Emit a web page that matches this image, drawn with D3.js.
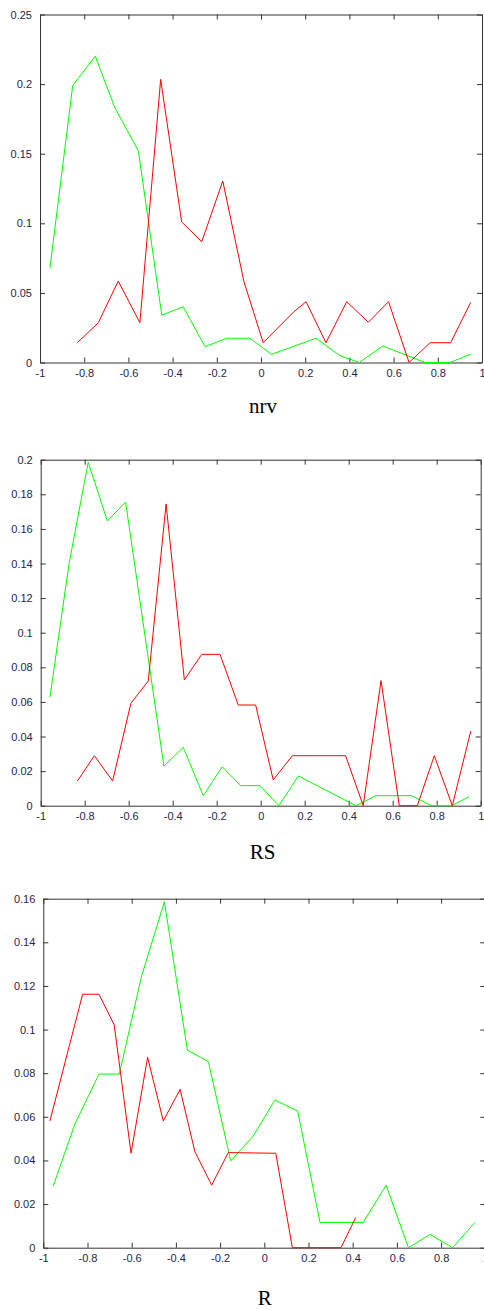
<!DOCTYPE html>
<html>
<head>
<meta charset="utf-8">
<script src="https://cdn.jsdelivr.net/npm/d3@7"></script>
<style>
    body { margin: 0; background: #fff; }
    .tick text { font-family: Arial, "Liberation Sans", sans-serif; font-size: 11px; fill: #25254a; }
    .title { font-family: "Times New Roman", "Liberation Serif", serif; font-size: 21px; fill: #000; }
</style>
</head>
<body>
<div id="chart"></div>
<script>
// values, [x, y]
const nrvGreen = [[-0.955, 0.068], [-0.852, 0.199], [-0.750, 0.220], [-0.661, 0.183], [-0.555, 0.152],
    [-0.449, 0.034], [-0.352, 0.040], [-0.253, 0.0114], [-0.155, 0.0174], [-0.050, 0.0174],
    [0.048, 0.0059], [0.249, 0.0174], [0.357, 0.005], [0.445, 0], [0.551, 0.0119],
    [0.742, 0], [0.855, 0], [0.949, 0.006]];
const nrvRed = [[-0.831, 0.0142], [-0.736, 0.0286], [-0.646, 0.0585], [-0.548, 0.0286], [-0.454, 0.2034],
    [-0.359, 0.101], [-0.268, 0.0868], [-0.173, 0.1304], [-0.077, 0.058], [0.010, 0.0142],
    [0.149, 0.0365], [0.204, 0.0437], [0.294, 0.0142], [0.388, 0.0437], [0.486, 0.0289],
    [0.577, 0.0437], [0.670, 0], [0.765, 0.0142], [0.858, 0.0142], [0.949, 0.0432]];

const rsGreen = [[-0.958, 0.0627], [-0.871, 0.140], [-0.784, 0.1985], [-0.697, 0.1646], [-0.614, 0.1755],
    [-0.440, 0.0229], [-0.352, 0.0337], [-0.261, 0.0058], [-0.175, 0.0225], [-0.091, 0.0116],
    [-0.003, 0.0116], [0.083, 0], [0.171, 0.0172], [0.433, 0], [0.524, 0.0058],
    [0.686, 0.0058], [0.777, 0], [0.868, 0], [0.948, 0.0052]];
const rsRed = [[-0.833, 0.0143], [-0.756, 0.0289], [-0.673, 0.0143], [-0.590, 0.0592], [-0.511, 0.0721],
    [-0.430, 0.1744], [-0.347, 0.0727], [-0.268, 0.0875], [-0.185, 0.0875], [-0.102, 0.0582],
    [-0.023, 0.0582], [0.057, 0.0149], [0.144, 0.0289], [0.386, 0.0289], [0.466, 0],
    [0.547, 0.0723], [0.630, 0], [0.712, 0], [0.789, 0.0289], [0.871, 0], [0.955, 0.0432]];

const rGreen = [[-0.955, 0.0283], [-0.857, 0.0567], [-0.748, 0.0796], [-0.656, 0.0796], [-0.555, 0.1246],
    [-0.452, 0.1586], [-0.348, 0.0906], [-0.253, 0.0853], [-0.152, 0.0398], [-0.050, 0.0512],
    [0.048, 0.0677], [0.151, 0.0627], [0.252, 0.0116], [0.448, 0.0116], [0.551, 0.0287],
    [0.652, 0], [0.750, 0.0061], [0.852, 0], [0.953, 0.0115]];
const rRed = [[-0.970, 0.0581], [-0.822, 0.1162], [-0.748, 0.1162], [-0.679, 0.1021], [-0.603, 0.0433],
    [-0.528, 0.0873], [-0.457, 0.0581], [-0.381, 0.0726], [-0.314, 0.0440], [-0.238, 0.0287],
    [-0.163, 0.0436], [0.052, 0.0433], [0.127, 0], [0.347, 0], [0.414, 0.0139]];

const titles = ["nrv", "RS", "R"];
const yMax = [0.25, 0.2, 0.16];
const yStep = [0.05, 0.02, 0.02];
const xTicks = [-1, -0.8, -0.6, -0.4, -0.2, 0, 0.2, 0.4, 0.6, 0.8, 1];

const panels = [
    {green: nrvGreen, red: nrvRed, box: {left: 40, right: 482, top: 14.5, bottom: 362.5}, titleY: 413},
    {green: rsGreen, red: rsRed, box: {left: 40.7, right: 480.7, top: 459.7, bottom: 805.7}, titleY: 859},
    {green: rGreen, red: rRed, box: {left: 43.3, right: 485.3, top: 898.7, bottom: 1247.7}, titleY: 1305}
];

const svg = d3.select("#chart").append("svg")
    .attr("width", 484)
    .attr("height", 1310);

const fmt = d => String(+d.toFixed(4));

panels.forEach(function(p, i) {
    let b = p.box;
    let x = d3.scaleLinear().domain([-1, 1]).range([b.left, b.right]);
    let y = d3.scaleLinear().domain([0, yMax[i]]).range([b.bottom, b.top]);
    let yTicks = d3.range(0, yMax[i] + yStep[i] / 2, yStep[i]);

    let g = svg.append("g");

    // MATLAB style box: ticks pointing inward on all four sides
    g.append("g").attr("transform", "translate(0," + b.bottom + ")")
        .call(d3.axisBottom(x).tickValues(xTicks).tickFormat(fmt).tickSizeInner(-5).tickSizeOuter(0).tickPadding(7));
    g.append("g").attr("transform", "translate(0," + b.top + ")")
        .call(d3.axisTop(x).tickValues(xTicks).tickFormat("").tickSizeInner(-5).tickSizeOuter(0));
    g.append("g").attr("transform", "translate(" + b.left + ",0)")
        .call(d3.axisLeft(y).tickValues(yTicks).tickFormat(fmt).tickSizeInner(-5).tickSizeOuter(0).tickPadding(8));
    g.append("g").attr("transform", "translate(" + b.right + ",0)")
        .call(d3.axisRight(y).tickValues(yTicks).tickFormat("").tickSizeInner(-5).tickSizeOuter(0));

    g.selectAll(".domain").attr("stroke", "#333");
    g.selectAll(".tick line").attr("stroke", "#333");

    let line = d3.line().x(d => x(d[0])).y(d => y(d[1]));

    g.append("path").datum(p.green)
        .attr("d", line).attr("fill", "none").attr("stroke", "#00ff00").attr("stroke-width", 1);
    g.append("path").datum(p.red)
        .attr("d", line).attr("fill", "none").attr("stroke", "#ff0000").attr("stroke-width", 1);

    g.append("text").attr("class", "title")
        .attr("x", (b.left + Math.min(b.right, 482)) / 2 + 2)
        .attr("y", p.titleY)
        .attr("text-anchor", "middle")
        .text(titles[i]);
});
</script>
</body>
</html>
